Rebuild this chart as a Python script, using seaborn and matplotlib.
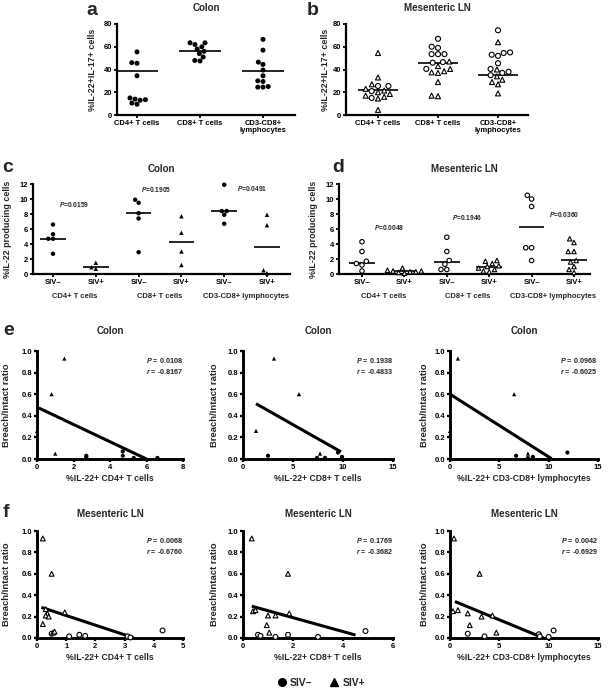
import matplotlib
matplotlib.use('Agg')
import matplotlib.pyplot as plt
import seaborn as sns
import pandas as pd
import numpy as np
from matplotlib.markers import MarkerStyle
from matplotlib.lines import Line2D

NEG, POS = 'SIV–', 'SIV+'

# ---- panel a: Colon, %IL-22+IL-17+ cells
a_cells = ['CD4+ T cells', 'CD8+ T cells', 'CD3-CD8+\nlymphocytes']
a_cd4 = [55.5, 46.0, 45.5, 34.5, 15.0, 14.0, 13.5, 13.0, 10.5, 9.5]
a_cd8 = [63.5, 63.5, 62.0, 60.0, 58.0, 56.0, 54.0, 51.0, 48.0, 47.5]
a_cd3 = [66.5, 57.0, 46.5, 44.5, 39.5, 34.5, 30.0, 29.5, 25.0, 24.5, 24.5]
a_lines = [38.5, 56.2, 38.8]

# ---- panel b: Mesenteric LN, %IL-22+IL-17+ cells
b_cd4_neg = [25.5, 25.5, 21.0, 15.0]
b_cd4_pos = [54.5, 33.0, 27.0, 23.0, 21.5, 20.0, 18.5, 17.0, 16.0, 14.5, 4.5]
b_cd8_neg = [67.0, 60.0, 59.0, 53.5, 53.5, 53.5, 46.5, 46.0, 40.5]
b_cd8_pos = [47.0, 43.0, 40.5, 38.5, 37.5, 37.0, 29.0, 17.0, 16.5]
b_cd3_neg = [74.5, 55.0, 54.5, 53.0, 52.0, 45.5, 40.5, 38.0, 37.0, 35.0]
b_cd3_pos = [64.0, 40.0, 34.0, 31.0, 29.0, 27.0, 19.0]
b_lines = [21.8, 45.5, 35.5]

# ---- panel c: Colon, %IL-22 producing cells
cd_groups = ['CD4+ T cells', 'CD8+ T cells', 'CD3-CD8+ lymphocytes']
c_cd4_neg = [6.6, 5.3, 4.7, 4.7, 2.7]
c_cd4_pos = [1.5, 0.9, 0.7]
c_cd8_neg = [9.9, 9.5, 8.1, 7.4, 2.9]
c_cd8_pos = [7.7, 5.5, 3.0, 1.2]
c_cd3_neg = [11.9, 8.4, 8.4, 7.9, 6.7]
c_cd3_pos = [7.9, 6.5, 0.5, 0.1]
c_lines = [4.7, 0.9, 8.2, 4.3, 8.4, 3.6]
c_pvals = ['0.0159', '0.1905', '0.0491']
c_p_pos = [(0.5, 9.3), (2.4, 11.3), (4.65, 11.4)]

# ---- panel d: Mesenteric LN, %IL-22 producing cells
d_cd4_neg = [4.3, 3.0, 1.7, 1.4, 1.2, 0.4]
d_cd4_pos = [0.8, 0.5, 0.4, 0.4, 0.3, 0.3, 0.2, 0.1]
d_cd8_neg = [4.9, 3.0, 1.8, 1.3, 0.6, 0.6]
d_cd8_pos = [1.8, 1.7, 1.4, 1.1, 1.0, 0.8, 0.6, 0.4, 0.3]
d_cd3_neg = [10.5, 10.0, 9.0, 3.5, 3.5, 1.8]
d_cd3_pos = [4.7, 4.2, 3.0, 3.0, 1.8, 1.6, 1.0, 0.6, 0.2]
d_lines = [1.5, 0.35, 1.6, 0.9, 6.25, 1.9]
d_pvals = ['0.0048', '0.1946', '0.0360']
d_p_pos = [(0.64, 6.2), (2.48, 7.6), (4.76, 7.9)]

# ---- panels e/f: Breach/Intact ratio vs %IL-22+ cells
e1_neg_x = [2.7, 2.7, 4.7, 4.7, 5.3, 6.6]
e1_neg_y = [0.03, 0.02, 0.07, 0.03, 0.01, 0.01]
e1_pos_x = [1.5, 0.8, 0.0, 1.0]
e1_pos_y = [0.93, 0.60, 0.26, 0.05]
e1_fit, e1_fit_x = (0.48, -0.08), (0.1, 6.0)

e2_neg_x = [2.5, 7.4, 8.2, 9.5, 9.9]
e2_neg_y = [0.03, 0.01, 0.01, 0.06, 0.02]
e2_pos_x = [3.1, 5.6, 1.3, 7.7]
e2_pos_y = [0.93, 0.60, 0.26, 0.05]
e2_fit, e2_fit_x = (0.58, -0.0524), (1.3, 9.8)

e3_neg_x = [6.7, 7.9, 8.4, 8.4, 11.9]
e3_neg_y = [0.03, 0.01, 0.02, 0.01, 0.06]
e3_pos_x = [0.8, 6.5, 0.0, 7.9]
e3_pos_y = [0.93, 0.60, 0.26, 0.05]
e3_fit, e3_fit_x = (0.60, -0.058), (0.0, 10.3)

f1_neg_x = [0.5, 1.1, 1.45, 1.65, 3.1, 3.2, 4.3]
f1_neg_y = [0.04, 0.015, 0.03, 0.02, 0.015, 0.005, 0.07]
f1_pos_x = [0.2, 0.5, 0.2, 0.35, 0.3, 0.4, 0.3, 0.95, 0.55, 0.6]
f1_pos_y = [0.93, 0.60, 0.13, 0.23, 0.21, 0.20, 0.27, 0.24, 0.05, 0.06]
f1_fit, f1_fit_x = (0.30, -0.09), (0.15, 3.3)

f2_neg_x = [0.6, 0.7, 1.3, 1.8, 3.0, 4.9]
f2_neg_y = [0.03, 0.02, 0.01, 0.03, 0.01, 0.065]
f2_pos_x = [0.35, 0.4, 0.5, 1.0, 1.3, 0.95, 1.05, 1.8, 1.85]
f2_pos_y = [0.93, 0.25, 0.26, 0.21, 0.21, 0.12, 0.05, 0.60, 0.23]
f2_fit, f2_fit_x = (0.32, -0.065), (0.35, 4.5)

f3_neg_x = [1.8, 3.5, 9.0, 9.1, 10.0, 10.5]
f3_neg_y = [0.04, 0.015, 0.035, 0.015, 0.01, 0.07]
f3_pos_x = [0.4, 0.3, 0.8, 1.8, 2.0, 3.0, 3.2, 4.3, 4.7]
f3_pos_y = [0.93, 0.25, 0.26, 0.23, 0.12, 0.60, 0.20, 0.21, 0.05]
f3_fit, f3_fit_x = (0.36, -0.038), (0.5, 9.5)

e_stats = [('0.0108', '-0.8167'), ('0.1938', '-0.4833'), ('0.0968', '-0.6025')]
f_stats = [('0.0068', '-0.6760'), ('0.1769', '-0.3682'), ('0.0042', '-0.6929')]
ef_xlabels = ['%IL-22+ CD4+ T cells', '%IL-22+ CD8+ T cells', '%IL-22+ CD3-CD8+ lymphocytes']

# ------------------------------------------------------------------
sns.set_theme(style='ticks')
plt.rcParams['font.family'] = ['Liberation Sans', 'DejaVu Sans']
plt.rcParams['font.weight'] = 'bold'
plt.rcParams['axes.labelweight'] = 'bold'
plt.rcParams['axes.titleweight'] = 'bold'
plt.rcParams['mathtext.fontset'] = 'custom'
plt.rcParams['mathtext.it'] = 'Liberation Sans:italic:bold'
plt.rcParams['mathtext.rm'] = 'Liberation Sans:bold'

W, H = 608, 690
fig = plt.figure(figsize=(W / 100, H / 100), dpi=100)


def px_axes(l, r, t, b):
    ax = fig.add_axes([l / W, 1 - b / H, (r - l) / W, (b - t) / H])
    ax._px = (l, r, t, b)
    return ax


def prism(ax, lw=1.6):
    sns.despine(ax=ax)
    for s in ('left', 'bottom'):
        ax.spines[s].set_linewidth(lw)
        ax.spines[s].set_color('black')
        ax.spines[s].set_capstyle('projecting')
    ax.tick_params(axis='both', width=lw * 0.8, length=2.5, labelsize=5.5, pad=1,
                   color='black', labelcolor='black')


def ylabel_at(ax, text, right_px, size):
    l, r, t, b = ax._px
    ax.set_ylabel(text, fontsize=size)
    ax.yaxis.set_label_coords((right_px - l) / (r - l), 0.5)


def long_df(groups):
    rows = []
    for cat, status, vals in groups:
        rows += [(cat, status, v) for v in vals]
    return pd.DataFrame(rows, columns=['cell', 'status', 'val'])


def marker_path(m):
    ms = MarkerStyle(m)
    return ms.get_path().transformed(ms.get_transform())


def swarm(ax, df, order, size, hollow):
    sns.swarmplot(data=df, x='cell', y='val', hue='status', order=order,
                  hue_order=[NEG, POS], palette={NEG: 'red', POS: 'blue'},
                  size=size, linewidth=0.8 if hollow else 0, edgecolor='black',
                  legend=False, ax=ax)
    circ, tri = marker_path('o'), marker_path('^')
    for coll in ax.collections:
        fc = coll.get_facecolors()
        if len(fc) == 0:
            continue
        coll.set_paths([circ if c[0] > 0.5 else tri for c in fc])
        coll.set_facecolor('white' if hollow else 'black')
        coll.set_edgecolor('black')
        coll.set_clip_on(False)


# ---- a / b
for letter, lx, title, groups, lines, hollow, px, lab_r in [
    ('a', 86, 'Colon',
     [(a_cells[0], NEG, a_cd4), (a_cells[1], NEG, a_cd8), (a_cells[2], NEG, a_cd3)],
     a_lines, False, (117, 295, 24, 115), 97),
    ('b', 307, 'Mesenteric LN',
     [(a_cells[0], NEG, b_cd4_neg), (a_cells[0], POS, b_cd4_pos),
      (a_cells[1], NEG, b_cd8_neg), (a_cells[1], POS, b_cd8_pos),
      (a_cells[2], NEG, b_cd3_neg), (a_cells[2], POS, b_cd3_pos)],
     b_lines, True, (346, 528, 24, 115), 330)]:
    ax = px_axes(*px)
    swarm(ax, long_df(groups), a_cells, 3.6, hollow)
    pos = np.arange(len(lines))
    ax.hlines(lines, pos - 0.33, pos + 0.33, color='black', lw=1.2)
    prism(ax)
    l, r, t, b = px
    cat_w = 63 if letter == 'a' else 60
    x0 = (l - (137 if letter == 'a' else 378)) / cat_w
    ax.set_xlim(x0, x0 + (r - l) / cat_w)
    ax.set_ylim(0, 80)
    ax.set_yticks([0, 20, 40, 60, 80])
    ax.set_xticks(pos)
    ax.set_xticklabels(a_cells, fontsize=5.5, linespacing=1.0)
    ax.set_xlabel('')
    ylabel_at(ax, '%IL-22+IL-17+ cells', lab_r, 6.4)
    ax.set_title(title, fontsize=7, pad=9.5)
    fig.text(lx / W, 1 - 15 / H, letter, fontsize=14, fontweight='bold', va='baseline')

# ---- c / d
for letter, lx, title, data, lines, pvals, ppos, hollow, px, first_px, cat_w, lab_r in [
    ('c', 2, 'Colon', [c_cd4_neg, c_cd4_pos, c_cd8_neg, c_cd8_pos, c_cd3_neg, c_cd3_pos],
     c_lines, c_pvals, c_p_pos, False, (33, 290, 184, 274), 53, 42.8, 12),
    ('d', 332, 'Mesenteric LN', [d_cd4_neg, d_cd4_pos, d_cd8_neg, d_cd8_pos, d_cd3_neg, d_cd3_pos],
     d_lines, d_pvals, d_p_pos, True, (339, 590, 184, 274), 362, 42.4, 318)]:
    ax = px_axes(*px)
    order = [f'{g} {s}' for g in cd_groups for s in (NEG, POS)]
    groups = [(order[i], (NEG, POS)[i % 2], data[i]) for i in range(6)]
    swarm(ax, long_df(groups), order, 3.2, hollow)
    pos = np.arange(6)
    ax.hlines(lines, pos - 0.3, pos + 0.3, color='black', lw=1.2)
    prism(ax)
    l, r, t, b = px
    x0 = (l - first_px) / cat_w
    ax.set_xlim(x0, x0 + (r - l) / cat_w)
    ax.set_ylim(0, 12)
    ax.set_yticks(range(0, 13, 2))
    ax.set_xticks(pos)
    ax.set_xticklabels([NEG, POS] * 3, fontsize=5.5)
    ax.set_xlabel('')
    for i, g in enumerate(cd_groups):
        ax.annotate(g, xy=(2 * i + 0.5, 0), xycoords=('data', 'axes fraction'),
                    xytext=(0, -13.5), textcoords='offset points', ha='center', va='top',
                    fontsize=5.5)
    for p, (xp, yp) in zip(pvals, ppos):
        ax.text(xp, yp, f'$P$={p}', fontsize=4.8, ha='center', va='center')
    ylabel_at(ax, '%IL-22 producing cells', lab_r, 6.4)
    ax.set_title(title, fontsize=7, pad=8.6)
    fig.text(lx / W, 1 - 172 / H, letter, fontsize=14, fontweight='bold', va='baseline')

# ---- e / f
cols_px = [(37, 183), (243, 393), (450, 598)]
lab_rights = [11, 219, 429]
e_sets = [(e1_neg_x, e1_neg_y, e1_pos_x, e1_pos_y, e1_fit, e1_fit_x, 8, [0, 2, 4, 6, 8]),
          (e2_neg_x, e2_neg_y, e2_pos_x, e2_pos_y, e2_fit, e2_fit_x, 15, [0, 5, 10, 15]),
          (e3_neg_x, e3_neg_y, e3_pos_x, e3_pos_y, e3_fit, e3_fit_x, 15, [0, 5, 10, 15])]
f_sets = [(f1_neg_x, f1_neg_y, f1_pos_x, f1_pos_y, f1_fit, f1_fit_x, 5, [0, 1, 2, 3, 4, 5]),
          (f2_neg_x, f2_neg_y, f2_pos_x, f2_pos_y, f2_fit, f2_fit_x, 6, [0, 2, 4, 6]),
          (f3_neg_x, f3_neg_y, f3_pos_x, f3_pos_y, f3_fit, f3_fit_x, 15, [0, 5, 10, 15])]

for letter, title, sets, stats, (t, b), hollow, ly, tpad in [
        ('e', 'Colon', e_sets, e_stats, (351, 459), False, 335, 12),
        ('f', 'Mesenteric LN', f_sets, f_stats, (531, 638), True, 517, 10)]:
    for k, (nx, ny, qx, qy, fit, fx, xmax, xt) in enumerate(sets):
        l, r = cols_px[k]
        ax = px_axes(l, r, t, b)
        df = pd.DataFrame({'x': nx + qx, 'y': ny + qy,
                           'status': [NEG] * len(nx) + [POS] * len(qx)})
        sns.scatterplot(data=df, x='x', y='y', style='status', style_order=[NEG, POS],
                        markers={NEG: 'o', POS: '^'}, color='black', edgecolor='black',
                        s=12 if hollow else 9, linewidth=0.8 if hollow else 0,
                        legend=False, clip_on=False, zorder=3, ax=ax)
        if hollow:
            ax.collections[-1].set_facecolor('white')
        xs = np.array(fx)
        ax.plot(xs, fit[0] + fit[1] * xs, color='black', lw=2.2, solid_capstyle='butt')
        prism(ax, lw=2.1)
        ax.set_xlim(0, xmax)
        ax.set_ylim(0, 1.0)
        ax.set_xticks(xt)
        ax.set_yticks(np.arange(0, 1.01, 0.2))
        ax.yaxis.set_major_formatter(matplotlib.ticker.FormatStrFormatter('%.1f'))
        ax.set_xlabel(ef_xlabels[k], fontsize=6.2, labelpad=2.5)
        ylabel_at(ax, 'Breach/Intact ratio', lab_rights[k], 6.8)
        ax.set_title(title, fontsize=7, pad=tpad)
        pv, rv = stats[k]
        ax.text(1.0, 0.95, f'$P$ = {pv}\n$r$ = {rv}', transform=ax.transAxes,
                fontsize=5.2, ha='right', va='top', multialignment='left', linespacing=1.2)
    fig.text(3 / W, 1 - ly / H, letter, fontsize=14, fontweight='bold', va='baseline')

# ---- legend
handles = [Line2D([], [], marker='o', ls='', color='black', ms=5.5),
           Line2D([], [], marker='^', ls='', color='black', ms=5.5)]
fig.legend(handles, [NEG, POS], ncol=2, loc='center', bbox_to_anchor=(321 / W, 1 - 683 / H),
           frameon=False, fontsize=7.5, handletextpad=0.3, columnspacing=1.6,
           handlelength=1.0, borderpad=0)

fig.savefig('out.png', dpi=100)
